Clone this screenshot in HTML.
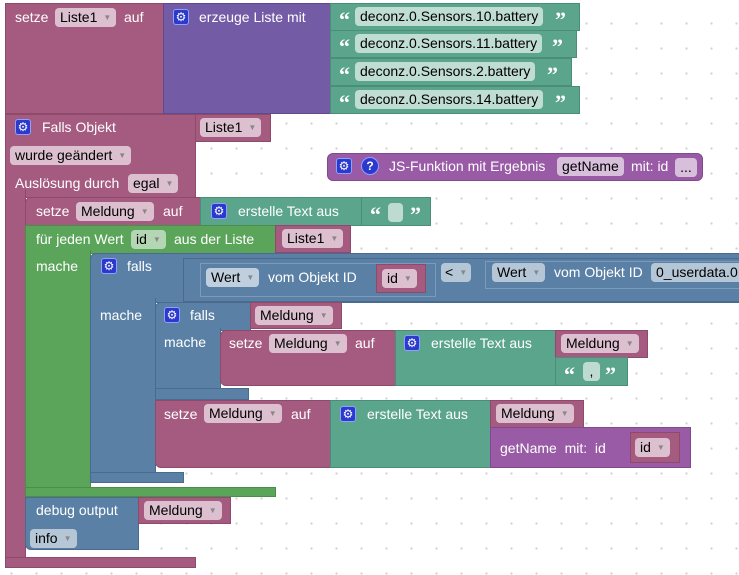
<!DOCTYPE html>
<html><head><meta charset="utf-8"><style>
html,body{margin:0;padding:0}
body{width:739px;height:575px;position:relative;overflow:hidden;background:#fff;
background-image:radial-gradient(circle,#d0d0d0 1px,transparent 1.3px);background-size:25px 25px;background-position:-1px 11px;
font-family:"Liberation Sans",sans-serif;font-size:14px;color:#fff}
div{position:absolute;box-sizing:border-box}
.m{background:#a55b80;border:1px solid #8e4a6b}
.p{background:#745ba5;border:1px solid #5f4a8e}
.t{background:#5ba58c;border:1px solid #4a8e77}
.g{background:#5ba55b;border:1px solid #4a8e4a}
.b{background:#5b80a5;border:1px solid #4a6b8e}
.v{background:#995ba5;border:1px solid #824a8e}
.l{white-space:nowrap;line-height:18px}
.f{background:rgba(255,255,255,.62);color:#000;border-radius:4px;height:19px;line-height:19px;padding:0 5px;white-space:nowrap}
.f i{font-style:normal;font-size:8px;color:#888;margin-left:6px;vertical-align:2px}
.gear{width:16px;height:16px;background:#2b3acd;border:1px solid #8fa0ff;border-radius:3px;color:#fff;font-size:12px;line-height:14px;text-align:center}
.q{font-weight:bold;font-size:22px;line-height:16px;font-family:"Liberation Serif",serif}
</style></head><body>

<!-- setze Liste1 -->
<div class="m" style="left:5px;top:3px;width:159px;height:111px"></div>
<div class="l" style="left:15px;top:8px">setze</div>
<div class="f" style="left:55px;top:8px">Liste1<i>▼</i></div>
<div class="l" style="left:124px;top:8px">auf</div>
<div class="p" style="left:163px;top:3px;width:168px;height:111px"></div>
<div class="gear" style="left:173px;top:9px">⚙</div>
<div class="l" style="left:199px;top:8px">erzeuge Liste mit</div>
<div class="t" style="left:330px;top:3px;width:250px;height:28px"></div>
<div class="t" style="left:330px;top:30px;width:247px;height:28px"></div>
<div class="t" style="left:330px;top:58px;width:242px;height:28px"></div>
<div class="t" style="left:330px;top:86px;width:250px;height:28px"></div>
<div class="l q" style="left:339px;top:12px">“</div><div class="f" style="left:355px;top:7px">deconz.0.Sensors.10.battery</div><div class="l q" style="left:555px;top:12px">”</div>
<div class="l q" style="left:339px;top:39px">“</div><div class="f" style="left:355px;top:34px">deconz.0.Sensors.11.battery</div><div class="l q" style="left:552px;top:39px">”</div>
<div class="l q" style="left:339px;top:67px">“</div><div class="f" style="left:355px;top:62px">deconz.0.Sensors.2.battery</div><div class="l q" style="left:547px;top:67px">”</div>
<div class="l q" style="left:339px;top:95px">“</div><div class="f" style="left:355px;top:90px">deconz.0.Sensors.14.battery</div><div class="l q" style="left:555px;top:95px">”</div>

<!-- Falls Objekt -->
<div class="m" style="left:5px;top:114px;width:191px;height:84px"></div>
<div class="m" style="left:5px;top:190px;width:21px;height:378px;border-top:0"></div>
<div class="m" style="left:5px;top:557px;width:191px;height:11px"></div>
<div class="gear" style="left:15px;top:119px">⚙</div>
<div class="l" style="left:42px;top:118px">Falls Objekt</div>
<div class="m" style="left:195px;top:114px;width:76px;height:28px"></div>
<div class="f" style="left:200px;top:118px">Liste1<i>▼</i></div>
<div class="f" style="left:10px;top:146px">wurde geändert<i>▼</i></div>
<div class="l" style="left:15px;top:174px">Auslösung durch</div>
<div class="f" style="left:128px;top:174px">egal<i>▼</i></div>

<!-- JS Funktion -->
<div class="v" style="left:327px;top:153px;width:376px;height:28px;border-radius:6px"></div>
<div class="gear" style="left:336px;top:158px">⚙</div>
<div style="left:361px;top:157px;width:18px;height:18px;border-radius:50%;background:#2b3acd;border:1px solid #8fa0ff;font-size:12px;line-height:16px;text-align:center;font-weight:bold">?</div>
<div class="l" style="left:389px;top:157px">JS-Funktion mit Ergebnis</div>
<div class="f" style="left:557px;top:157px">getName</div>
<div class="l" style="left:631px;top:157px">mit: id</div>
<div class="f" style="left:675px;top:158px;width:22px;padding:0;text-align:center">...</div>

<!-- setze Meldung -->
<div class="m" style="left:25px;top:197px;width:176px;height:29px;border-radius:6px 0 0 0"></div>
<div class="l" style="left:36px;top:202px">setze</div>
<div class="f" style="left:76px;top:202px">Meldung<i>▼</i></div>
<div class="l" style="left:163px;top:202px">auf</div>
<div class="t" style="left:200px;top:197px;width:162px;height:29px"></div>
<div class="gear" style="left:211px;top:203px">⚙</div>
<div class="l" style="left:238px;top:202px">erstelle Text aus</div>
<div class="t" style="left:361px;top:197px;width:70px;height:29px"></div>
<div class="l q" style="left:370px;top:207px">“</div>
<div class="f" style="left:388px;top:203px;width:15px;background:rgba(255,255,255,.6)"></div>
<div class="l q" style="left:410px;top:207px">”</div>

<!-- loop -->
<div class="g" style="left:25px;top:225px;width:251px;height:29px"></div>
<div class="g" style="left:25px;top:250px;width:66px;height:247px;border-top:0"></div>
<div class="g" style="left:25px;top:487px;width:251px;height:10px"></div>
<div class="l" style="left:36px;top:230px">für jeden Wert</div>
<div class="f" style="left:131px;top:230px;background:rgba(255,255,255,.55)">id<i>▼</i></div>
<div class="l" style="left:174px;top:230px">aus der Liste</div>
<div class="m" style="left:275px;top:225px;width:76px;height:28px"></div>
<div class="f" style="left:282px;top:229px">Liste1<i>▼</i></div>
<div class="l" style="left:36px;top:257px">mache</div>

<!-- falls outer -->
<div class="b" style="left:90px;top:253px;width:660px;height:50px;border-radius:6px 0 0 0"></div>
<div class="b" style="left:90px;top:298px;width:66px;height:185px;border-top:0;border-radius:0 0 0 6px"></div>
<div class="b" style="left:90px;top:472px;width:94px;height:11px"></div>
<div class="gear" style="left:101px;top:258px">⚙</div>
<div class="l" style="left:127px;top:257px">falls</div>
<div class="b" style="left:183px;top:258px;width:570px;height:44px;border-color:#4a6b8e"></div>
<div class="b" style="left:200px;top:263px;width:236px;height:34px;border:1px solid #7c9bbb"></div>
<div class="f" style="left:206px;top:268px">Wert<i>▼</i></div>
<div class="l" style="left:268px;top:268px">vom Objekt ID</div>
<div class="m" style="left:376px;top:264px;width:50px;height:29px"></div>
<div class="f" style="left:382px;top:269px">id<i>▼</i></div>
<div class="f" style="left:441px;top:263px;padding:0 4px;background:rgba(255,255,255,.55)">&lt;<i>▼</i></div>
<div class="b" style="left:485px;top:261px;width:260px;height:28px;border:1px solid #7c9bbb"></div>
<div class="f" style="left:492px;top:263px;background:rgba(255,255,255,.55)">Wert<i>▼</i></div>
<div class="l" style="left:554px;top:263px">vom Objekt ID</div>
<div class="f" style="left:651px;top:263px;background:rgba(255,255,255,.55)">0_userdata.0</div>
<div class="l" style="left:100px;top:306px">mache</div>

<!-- falls inner -->
<div class="b" style="left:155px;top:302px;width:96px;height:29px;border-radius:6px 0 0 0"></div>
<div class="b" style="left:155px;top:328px;width:66px;height:72px;border-top:0"></div>
<div class="b" style="left:155px;top:388px;width:94px;height:12px"></div>
<div class="gear" style="left:164px;top:307px">⚙</div>
<div class="l" style="left:190px;top:306px">falls</div>
<div class="m" style="left:250px;top:302px;width:92px;height:27px"></div>
<div class="f" style="left:255px;top:306px">Meldung<i>▼</i></div>
<div class="l" style="left:164px;top:333px">mache</div>

<div class="m" style="left:220px;top:330px;width:176px;height:56px;border-radius:6px 0 0 6px"></div>
<div class="l" style="left:229px;top:334px">setze</div>
<div class="f" style="left:269px;top:334px">Meldung<i>▼</i></div>
<div class="l" style="left:355px;top:334px">auf</div>
<div class="t" style="left:395px;top:330px;width:161px;height:56px"></div>
<div class="gear" style="left:404px;top:335px">⚙</div>
<div class="l" style="left:431px;top:334px">erstelle Text aus</div>
<div class="m" style="left:555px;top:330px;width:93px;height:28px"></div>
<div class="f" style="left:561px;top:334px">Meldung<i>▼</i></div>
<div class="t" style="left:555px;top:357px;width:73px;height:29px"></div>
<div class="l q" style="left:564px;top:367px">“</div>
<div class="f" style="left:583px;top:362px;width:17px;padding:0;text-align:center;background:rgba(255,255,255,.6)">,</div>
<div class="l q" style="left:605px;top:367px">”</div>

<div class="m" style="left:155px;top:400px;width:176px;height:68px;border-radius:0 0 0 6px"></div>
<div class="l" style="left:164px;top:405px">setze</div>
<div class="f" style="left:204px;top:404px">Meldung<i>▼</i></div>
<div class="l" style="left:291px;top:405px">auf</div>
<div class="t" style="left:330px;top:400px;width:161px;height:68px"></div>
<div class="gear" style="left:340px;top:406px">⚙</div>
<div class="l" style="left:367px;top:405px">erstelle Text aus</div>
<div class="m" style="left:490px;top:400px;width:94px;height:28px"></div>
<div class="f" style="left:496px;top:404px">Meldung<i>▼</i></div>
<div class="v" style="left:490px;top:427px;width:201px;height:41px"></div>
<div class="l" style="left:500px;top:439px">getName&nbsp; mit:&nbsp; id</div>
<div class="m" style="left:630px;top:432px;width:50px;height:31px"></div>
<div class="f" style="left:635px;top:438px">id<i>▼</i></div>

<!-- debug -->
<div class="b" style="left:25px;top:497px;width:114px;height:53px;border-radius:0 0 0 6px"></div>
<div class="l" style="left:36px;top:501px">debug output</div>
<div class="m" style="left:138px;top:497px;width:93px;height:27px"></div>
<div class="f" style="left:144px;top:501px">Meldung<i>▼</i></div>
<div class="f" style="left:30px;top:529px;background:rgba(255,255,255,.55)">info<i>▼</i></div>
</body></html>
